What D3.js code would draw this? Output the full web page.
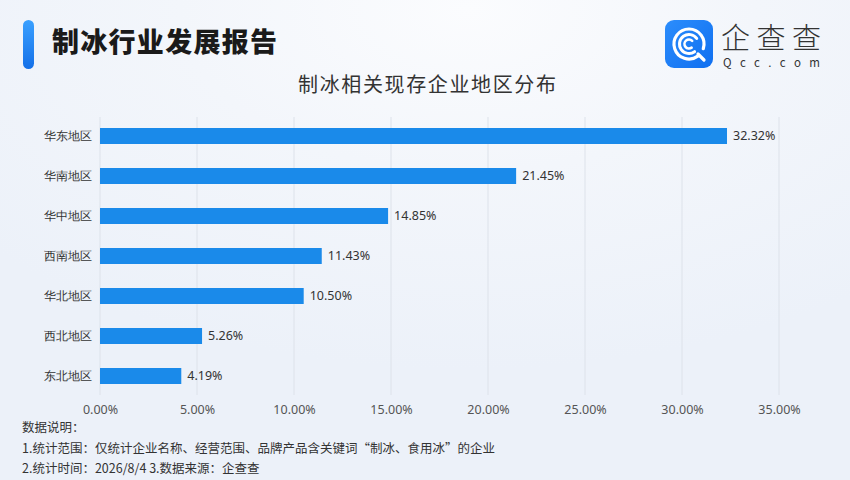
<!DOCTYPE html>
<html><head><meta charset="utf-8">
<script src="https://cdn.jsdelivr.net/npm/d3@7"></script>
<style>body{margin:0;}svg{display:block;font-family:"Noto Sans CJK SC","Noto Sans",sans-serif;}</style>
</head><body><svg id="c" width="850" height="480"></svg>
<script>
const categories = ["华东地区","华南地区","华中地区","西南地区","华北地区","西北地区","东北地区"];
const values = [32.32,21.45,14.85,11.43,10.50,5.26,4.19];
const ticks = [0,5,10,15,20,25,30,35];
const title = "制冰行业发展报告";
const subtitle = "制冰相关现存企业地区分布";
const notes = ["数据说明：","1.统计范围：仅统计企业名称、经营范围、品牌产品含关键词“制冰、食用冰”的企业","2.统计时间：2026/8/4 3.数据来源：企查查"];

const svg = d3.select("#c");
const defs = svg.append("defs");
const bg = defs.append("radialGradient").attr("id","bg").attr("cx","0.55").attr("cy","0.02").attr("r","0.75");
bg.append("stop").attr("offset","0").attr("stop-color","#fbfcfe");
bg.append("stop").attr("offset","0.45").attr("stop-color","#f3f6fb");
bg.append("stop").attr("offset","1").attr("stop-color","#ecf1f9");
svg.append("rect").attr("width",850).attr("height",480).attr("fill","url(#bg)");
const lg = defs.append("linearGradient").attr("id","acc").attr("x1",0).attr("y1",0).attr("x2",0).attr("y2",1);
lg.append("stop").attr("offset",0).attr("stop-color","#3aa0ff");
lg.append("stop").attr("offset",1).attr("stop-color","#1470e8");
svg.append("rect").attr("x",23).attr("y",20).attr("width",11).attr("height",49).attr("rx",5.5).attr("fill","url(#acc)");
svg.append("text").attr("x",52).attr("y",52).attr("font-size",27).attr("font-weight","900").attr("fill","#1a1a1a").attr("textLength",225).text(title);

// logo
const lg2 = defs.append("linearGradient").attr("id","logo").attr("x1",0).attr("y1",0).attr("x2",1).attr("y2",1);
lg2.append("stop").attr("offset",0).attr("stop-color","#2c8dfc");
lg2.append("stop").attr("offset",1).attr("stop-color","#0f6ff0");
svg.append("rect").attr("x",665).attr("y",20).attr("width",48).attr("height",48).attr("rx",9).attr("fill","url(#logo)");
const lgG = svg.append("g").attr("fill","none").attr("stroke","#fff").attr("stroke-linecap","round");
function arcPath(r,a0,a1){const p=d3.path();p.arc(689,44,r,a0,a1);return p.toString();}
lgG.append("path").attr("d",arcPath(15,Math.PI*0.3,Math.PI*2.1)).attr("stroke-width",3.2);
lgG.append("path").attr("d",arcPath(9.5,Math.PI*0.3,Math.PI*1.8)).attr("stroke-width",3);
lgG.append("path").attr("d",arcPath(4.5,Math.PI*0.3,Math.PI*1.75)).attr("stroke-width",2.6);
lgG.append("line").attr("x1",698).attr("y1",54).attr("x2",704).attr("y2",60).attr("stroke-width",3.2);
svg.append("text").attr("x",721).attr("y",49).attr("font-size",29).attr("fill","#333").attr("font-weight","300").attr("textLength",100).text("企查查");
svg.append("text").attr("x",723).attr("y",67).attr("font-size",11.5).attr("fill","#333").attr("textLength",97).text("Qcc.com");

svg.append("text").attr("x",427).attr("y",92).attr("text-anchor","middle").attr("font-size",20).attr("fill","#333").attr("textLength",258).text(subtitle);

const x = d3.scaleLinear().domain([0,35]).range([100,779]);
const y = d3.scaleBand().domain(categories).range([116,396]).paddingInner(0.6).paddingOuter(0.3);

svg.append("g").selectAll("line").data(ticks).join("line")
  .attr("x1",d=>x(d)).attr("x2",d=>x(d)).attr("y1",117).attr("y2",395)
  .attr("stroke","#dde2ea").attr("stroke-width",1);

const xa = svg.append("g").attr("transform","translate(0,396)")
  .call(d3.axisBottom(x).tickValues(ticks).tickSize(0).tickPadding(9).tickFormat(d=>d.toFixed(2)+"%"));
xa.select(".domain").remove();
xa.selectAll("text").attr("font-size",12.5).attr("fill","#555").attr("font-family","'Noto Sans','Noto Sans CJK SC',sans-serif");

const ya = svg.append("g").attr("transform","translate(92,0)").call(d3.axisLeft(y).tickSize(0).tickPadding(0));
ya.select(".domain").remove();
ya.selectAll("text").attr("font-size",12.3).attr("fill","#333");

svg.append("g").selectAll("rect").data(values).join("rect")
  .attr("x",x(0)).attr("y",(d,i)=>y(categories[i])).attr("width",d=>x(d)-x(0)).attr("height",y.bandwidth())
  .attr("fill","#1a8aea");

svg.append("g").selectAll("text").data(values).join("text")
  .attr("x",d=>x(d)+6).attr("y",(d,i)=>y(categories[i])+y.bandwidth()/2).attr("dy","0.35em")
  .attr("font-size",12.5).attr("fill","#333").attr("font-family","'Noto Sans','Noto Sans CJK SC',sans-serif")
  .text(d=>d.toFixed(2)+"%");

const noteLens = [null,473,null];
svg.append("g").selectAll("text").data(notes).join("text")
  .attr("x",22).attr("y",(d,i)=>432+i*20.5).attr("font-size",12.5).attr("fill","#333")
  .each(function(d,i){ if(noteLens[i]) d3.select(this).attr("textLength",noteLens[i]); })
  .text(d=>d);
</script></body></html>
